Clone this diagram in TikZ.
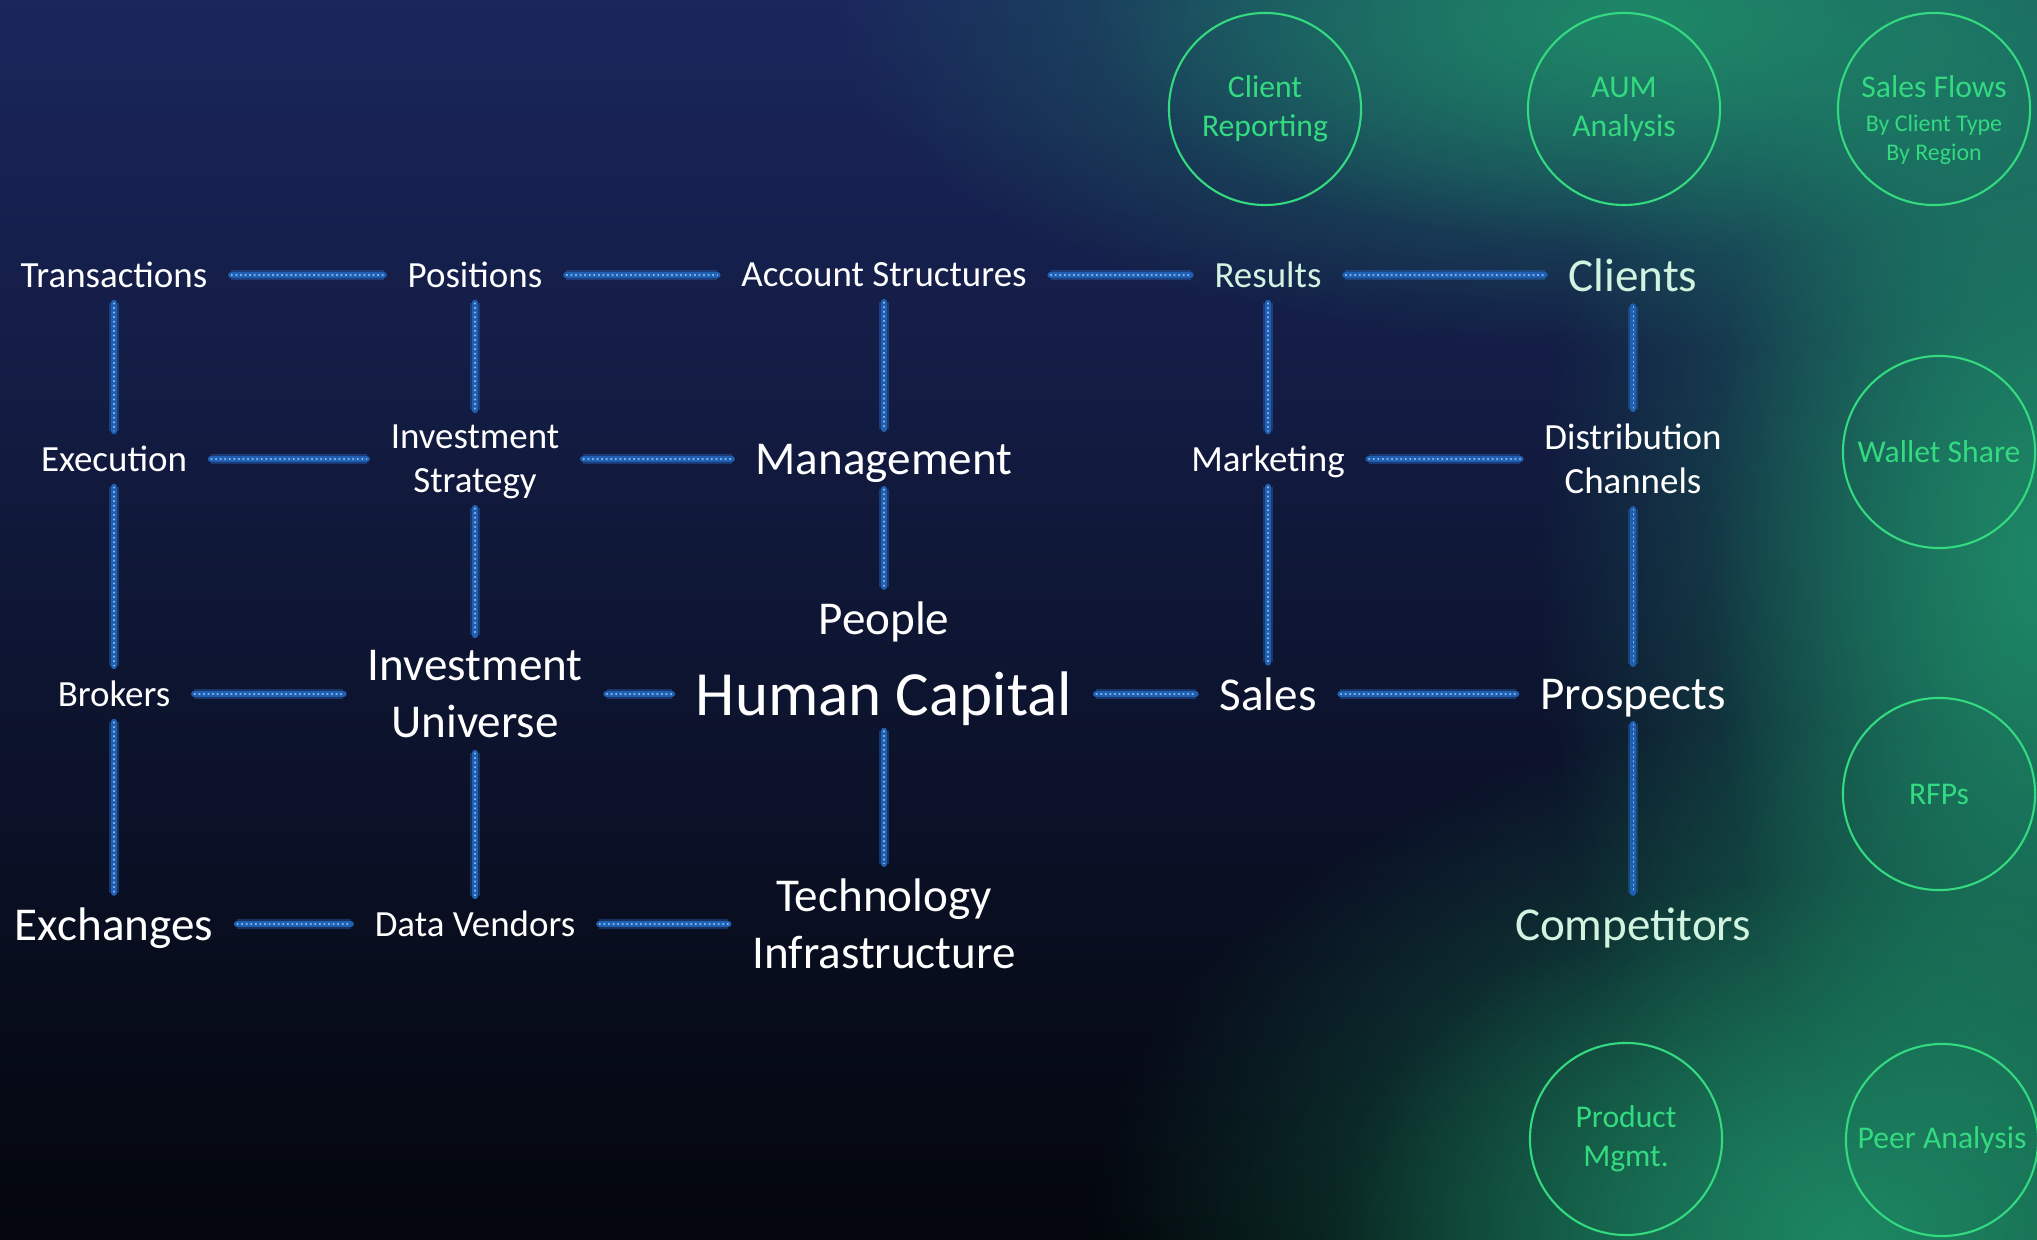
\documentclass[tikz,border=0pt]{standalone}
\usepackage{fontspec}
\setmainfont{Carlito}
\usetikzlibrary{fadings}

\definecolor{navytop}{RGB}{26,38,92}
\definecolor{navymid}{RGB}{15,26,62}
\definecolor{navybot}{RGB}{3,6,12}
\definecolor{glowgreen}{RGB}{30,142,104}
\definecolor{linkblue}{RGB}{32,96,178}
\definecolor{linkglow}{RGB}{45,120,215}
\definecolor{linkdot}{RGB}{130,180,240}
\definecolor{circgreen}{RGB}{52,218,128}
\definecolor{mint}{RGB}{208,244,224}

\newcommand{\nodp}[1]{\raisebox{0pt}[\height][0pt]{#1}}

\tikzfading[name=glowfade, inner color=transparent!0, outer color=transparent!100]

\tikzset{
  lbl/.style={text=white, inner sep=0pt, outer xsep=.24cm, outer ysep=.15cm, align=center},
  txtsmall/.style={lbl, font=\fontsize{10.5}{12.6}\selectfont},
  txtbig/.style={lbl, font=\fontsize{13.4}{16.3}\selectfont},
  txthuge/.style={lbl, font=\fontsize{17.9}{21}\selectfont},
  bubble/.style={circle, draw=circgreen, line width=.6pt, minimum size=1.92cm, inner sep=0pt,
    text=circgreen, align=center, font=\fontsize{9}{11.1}\selectfont},
  link/.style={draw=linkblue, line width=1.8pt, line cap=round,
    preaction={draw=linkglow, line width=3pt, draw opacity=.35},
    postaction={draw=linkdot, line width=.3pt, densely dotted}}
}

\begin{document}
\begin{tikzpicture}[x=0.01cm,y=-0.01cm]
	\useasboundingbox (0,0) rectangle (2037,1240);

	% fond
	\begin{scope}
	\clip (0,0) rectangle (2037,1240);
	\shade[top color=navytop, middle color=navymid, bottom color=navybot] (0,0) rectangle (2037,1240);
	% lueur verte
	\fill[glowgreen, opacity=.75, path fading=glowfade] (1650,20) ellipse (820 and 330);
	\fill[glowgreen, opacity=.75, path fading=glowfade] (1650,20) ellipse (560 and 230);
	\fill[glowgreen, opacity=.75, path fading=glowfade] (2037,560) ellipse (500 and 860);
	\fill[glowgreen, opacity=.75, path fading=glowfade] (2037,560) ellipse (330 and 700);
	\fill[glowgreen, opacity=.75, path fading=glowfade] (1850,1240) ellipse (760 and 530);
	\fill[glowgreen, opacity=.75, path fading=glowfade] (1850,1240) ellipse (520 and 370);
	\end{scope}

	% premiere ligne
	\node[txtsmall] (trans) at (114,275) {Transactions};
	\node[txtsmall] (pos) at (475,275) {Positions};
	\node[txtsmall] (acct) at (884,275) {Account Structures};
	\node[txtsmall, text=mint] (res) at (1268,275) {Results};
	\node[txtbig, text=mint] (cli) at (1633,275) {Clients};

	% deuxieme ligne
	\node[txtsmall] (exec) at (114,459) {Execution};
	\node[txtsmall] (strat) at (475,459) {Investment\\\nodp{Strategy}};
	\node[txtbig] (mgmt) at (884,459) {\nodp{Management}};
	\node[txtsmall] (mkt) at (1268,459) {\nodp{Marketing}};
	\node[txtsmall] (dist) at (1633,459) {Distribution\\Channels};

	\node[txtbig] (people) at (884,618) {\nodp{People}};

	% troisieme ligne
	\node[txtsmall] (brok) at (114,694) {Brokers};
	\node[txtbig] (univ) at (475,694) {Investment\\Universe};
	\node[txthuge] (human) at (884,694) {\nodp{Human Capital}};
	\node[txtbig] (sales) at (1268,694) {Sales};
	\node[txtbig] (prosp) at (1633,694) {\nodp{Prospects}};

	% derniere ligne
	\node[txtbig] (exch) at (114,924) {\nodp{Exchanges}};
	\node[txtsmall] (vend) at (475,924) {Data Vendors};
	\node[txtbig] (tech) at (884,924) {Technology\\Infrastructure};
	\node[txtbig, text=mint] (comp) at (1633,924) {\nodp{Competitors}};

	% liens horizontaux
	\draw[link] (trans) -- (pos);
	\draw[link] (pos) -- (acct);
	\draw[link] (acct) -- (res);
	\draw[link] (res) -- (cli);
	\draw[link] (exec) -- (strat);
	\draw[link] (strat) -- (mgmt);
	\draw[link] (mkt) -- (dist);
	\draw[link] (brok) -- (univ);
	\draw[link] (univ) -- (human);
	\draw[link] (human) -- (sales);
	\draw[link] (sales) -- (prosp);
	\draw[link] (exch) -- (vend);
	\draw[link] (vend) -- (tech);

	% liens verticaux
	\draw[link] (trans) -- (exec);
	\draw[link] (exec) -- (brok);
	\draw[link] (brok) -- (exch);
	\draw[link] (pos) -- (strat);
	\draw[link] (strat) -- (univ);
	\draw[link] (univ) -- (vend);
	\draw[link] (acct) -- (mgmt);
	\draw[link] (mgmt) -- (people);
	\draw[link] (human) -- (tech);
	\draw[link] (res) -- (mkt);
	\draw[link] (mkt) -- (sales);
	\draw[link] (cli) -- (dist);
	\draw[link] (dist) -- (prosp);
	\draw[link] (prosp) -- (comp);

	% cercles
	\node[bubble] (report) at (1265,109) {Client\\Reporting};
	\node[bubble] (aum) at (1624,109) {AUM\\Analysis};
	\node[bubble, font=\fontsize{9}{9.6}\selectfont] (flows) at (1934,109)
		{\rule{0pt}{12.5pt}Sales Flows\\{\fontsize{6.8}{8}\selectfont By Client Type}\\[-1.5pt]{\fontsize{6.8}{8}\selectfont By Region}};
	\node[bubble] (wallet) at (1939,452) {Wallet Share};
	\node[bubble] (rfp) at (1939,794) {RFPs};
	\node[bubble] (prod) at (1626,1139) {Product\\Mgmt.};
	\node[bubble] (peer) at (1942,1140) {Peer Analysis};
\end{tikzpicture}
\end{document}
